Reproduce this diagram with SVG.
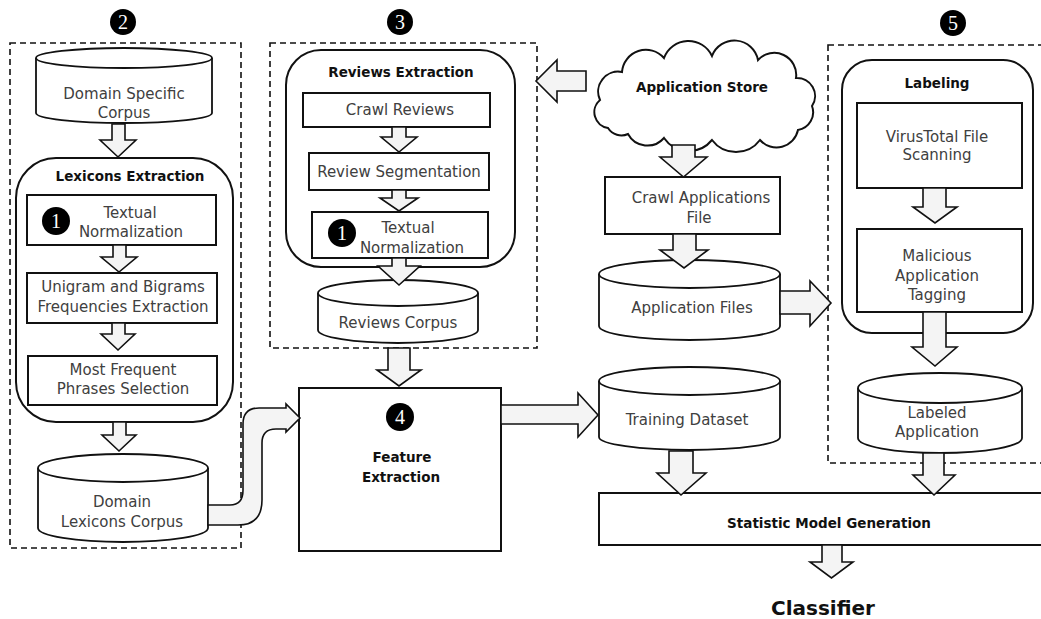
<svg xmlns="http://www.w3.org/2000/svg" width="1041" height="619" viewBox="0 0 1041 619">
  <style>
    .grp { fill: none; stroke: #111; stroke-width: 1.6; stroke-dasharray: 6 4; }
    .box { fill: #fff; stroke: #111; stroke-width: 2; }
    .db { fill: #fff; stroke: #111; stroke-width: 1.8; }
    .arr { fill: #f4f4f4; stroke: #111; stroke-width: 1.6; stroke-linejoin: miter; }
    .t { font-family: "DejaVu Sans", "Liberation Sans", sans-serif; font-size: 15px; fill: #404040; text-anchor: middle; }
    .h { font-family: "DejaVu Sans", "Liberation Sans", sans-serif; font-size: 13.5px; font-weight: bold; fill: #111; text-anchor: middle; }
    .big { font-size: 20px; }
    .badge { fill: #000; }
    .num { font-family: "Liberation Serif", "DejaVu Serif", serif; font-size: 20px; fill: #fff; text-anchor: middle; }
  </style>

  <!-- dashed grouping frames with their step badges -->
  <g id="group-2">
    <rect class="grp" x="10" y="43" width="231" height="505"/>
    <circle class="badge" cx="123" cy="22" r="13"/>
    <text class="num" x="123" y="29">2</text>
  </g>
  <g id="group-3">
    <rect class="grp" x="270" y="43" width="267" height="305"/>
    <circle class="badge" cx="400" cy="22" r="13"/>
    <text class="num" x="400" y="29">3</text>
  </g>
  <g id="group-5">
    <rect class="grp" x="828" y="45" width="240" height="418"/>
    <circle class="badge" cx="953" cy="23" r="13"/>
    <text class="num" x="953" y="30">5</text>
  </g>

  <!-- lexicon branch -->
  <g id="domain-specific-corpus">
    <path class="db" d="M36,58 V113 A88,10 0 0 0 212,113 V58"/>
    <ellipse class="db" cx="124" cy="58" rx="88" ry="10"/>
    <text class="t" x="124" y="99">Domain Specific</text>
    <text class="t" x="124" y="118">Corpus</text>
  </g>
  <g id="lexicons-extraction">
    <rect class="box" x="16" y="158" width="217" height="264" rx="40" ry="40"/>
    <text class="h" x="130" y="181">Lexicons Extraction</text>
  </g>
  <g id="lex-normalization">
    <rect class="box" x="27" y="195" width="189" height="50"/>
    <circle class="badge" cx="56" cy="221" r="14"/>
    <text class="num" x="56" y="228">1</text>
    <text class="t" x="130" y="218">Textual</text>
    <text class="t" x="131" y="237">Normalization</text>
  </g>
  <g id="ngram-frequencies">
    <rect class="box" x="27" y="273" width="190" height="50"/>
    <text class="t" x="123" y="292">Unigram and Bigrams</text>
    <text class="t" x="123" y="312">Frequencies Extraction</text>
  </g>
  <g id="phrase-selection">
    <rect class="box" x="28" y="356" width="189" height="49"/>
    <text class="t" x="123" y="375">Most Frequent</text>
    <text class="t" x="123" y="394">Phrases Selection</text>
  </g>
  <g id="domain-lexicons-corpus">
    <path class="db" d="M38,468 V528 A85,14 0 0 0 208,528 V468"/>
    <ellipse class="db" cx="123" cy="468" rx="85" ry="14"/>
    <text class="t" x="122" y="507">Domain</text>
    <text class="t" x="122" y="527">Lexicons Corpus</text>
  </g>

  <!-- reviews branch -->
  <g id="reviews-extraction">
    <rect class="box" x="286" y="50" width="229" height="217" rx="35" ry="35"/>
    <text class="h" x="401" y="77">Reviews Extraction</text>
  </g>
  <g id="crawl-reviews">
    <rect class="box" x="303" y="93" width="187" height="34"/>
    <text class="t" x="400" y="115">Crawl Reviews</text>
  </g>
  <g id="review-segmentation">
    <rect class="box" x="309" y="153" width="180" height="37"/>
    <text class="t" x="399" y="177">Review Segmentation</text>
  </g>
  <g id="rev-normalization">
    <rect class="box" x="312" y="212" width="176" height="46"/>
    <circle class="badge" cx="342" cy="233" r="14"/>
    <text class="num" x="342" y="240">1</text>
    <text class="t" x="408" y="233">Textual</text>
    <text class="t" x="412" y="253">Normalization</text>
  </g>
  <g id="reviews-corpus">
    <path class="db" d="M318,293 V330 A80,13 0 0 0 478,330 V293"/>
    <ellipse class="db" cx="398" cy="293" rx="80" ry="13"/>
    <text class="t" x="398" y="328">Reviews Corpus</text>
  </g>

  <!-- feature extraction -->
  <g id="feature-extraction">
    <rect class="box" x="299" y="388" width="202" height="163"/>
    <circle class="badge" cx="400" cy="417" r="14"/>
    <text class="num" x="400" y="424">4</text>
    <text class="h" x="402" y="462">Feature</text>
    <text class="h" x="401" y="482">Extraction</text>
  </g>

  <!-- application branch -->
  <g id="application-store">
    <path class="box" stroke-width="1.8" d="M608,128 A16,16 0 0 1 600,100 A20,20 0 0 1 622,72 A24,24 0 0 1 664,58 A26,26 0 0 1 712,56 A24,24 0 0 1 758,60 A22,22 0 0 1 796,78 A18,18 0 0 1 812,106 A18,18 0 0 1 798,130 A22,22 0 0 1 760,140 A30,30 0 0 1 712,140 A30,30 0 0 1 664,138 A22,22 0 0 1 628,134 A16,16 0 0 1 608,128 Z"/>
    <text class="h" x="702" y="92">Application Store</text>
  </g>
  <g id="crawl-applications">
    <rect class="box" x="605" y="177" width="175" height="57"/>
    <text class="t" x="701" y="203">Crawl Applications</text>
    <text class="t" x="699" y="223">File</text>
  </g>
  <g id="application-files">
    <path class="db" d="M599,274 V326 A90.5,14 0 0 0 780,326 V274"/>
    <ellipse class="db" cx="689.5" cy="274" rx="90.5" ry="14"/>
    <text class="t" x="692" y="313">Application Files</text>
  </g>
  <g id="training-dataset">
    <path class="db" d="M599,381 V437 A90.5,13 0 0 0 780,437 V381"/>
    <ellipse class="db" cx="689.5" cy="381" rx="90.5" ry="14"/>
    <text class="t" x="687" y="425">Training Dataset</text>
  </g>

  <!-- labeling branch -->
  <g id="labeling">
    <rect class="box" x="842" y="60" width="191" height="273" rx="30" ry="30"/>
    <text class="h" x="937" y="88">Labeling</text>
  </g>
  <g id="virustotal-scanning">
    <rect class="box" x="857" y="103" width="165" height="85"/>
    <text class="t" x="937" y="142">VirusTotal File</text>
    <text class="t" x="937" y="160">Scanning</text>
  </g>
  <g id="malicious-tagging">
    <rect class="box" x="857" y="229" width="165" height="83"/>
    <text class="t" x="937" y="261">Malicious</text>
    <text class="t" x="937" y="281">Application</text>
    <text class="t" x="937" y="300">Tagging</text>
  </g>
  <g id="labeled-application">
    <path class="db" d="M858,388 V438 A82,15 0 0 0 1022,438 V388"/>
    <ellipse class="db" cx="940" cy="388" rx="82" ry="15"/>
    <text class="t" x="937" y="418">Labeled</text>
    <text class="t" x="937" y="437">Application</text>
  </g>

  <!-- model generation and output -->
  <g id="statistic-model-generation">
    <rect class="box" x="599" y="493" width="450" height="52"/>
    <text class="h" x="829" y="528">Statistic Model Generation</text>
  </g>
  <g id="classifier">
    <text class="h big" x="823" y="615">Classifier</text>
  </g>

  <!-- block arrow connectors -->
  <g id="connectors">
    <polygon class="arr" points="112,124 125,124 125,140 136,140 118,157 100,140 112,140"/>
    <polygon class="arr" points="113,245 126,245 126,257 137,257 119,272 101,257 113,257"/>
    <polygon class="arr" points="112,323 125,323 125,334 135,334 118,350 101,334 112,334"/>
    <polygon class="arr" points="113,422 126,422 126,435 136,435 119,451 102,435 113,435"/>

    <polygon class="arr" points="392,127 406,127 406,137 417,137 399,152 381,137 392,137"/>
    <polygon class="arr" points="392,190 406,190 406,198 418,198 399,211 380,198 392,198"/>
    <polygon class="arr" points="392,258 406,258 406,266 420,266 399,285 378,266 392,266"/>
    <polygon class="arr" points="388,348 410,348 410,370 421,370 399,386 377,370 388,370"/>

    <path class="arr" d="M208,505 H230 Q243,505 243,490 V424 Q243,408 259,408 H286 V404 L300,418 L286,432 V429 H276 Q262,429 262,443 V500 Q262,525 238,525 H208 Z"/>

    <polygon class="arr" points="501,405 578,405 578,393 598,415 578,437 578,424 501,424"/>
    <polygon class="arr" points="586,71 557,71 557,60 536,81 557,102 557,91 586,91"/>

    <polygon class="arr" points="672,145 695,145 695,157 707,157 683.5,177 660,157 672,157"/>
    <polygon class="arr" points="673,234 696,234 696,250 708,250 684,268 660,250 673,250"/>
    <polygon class="arr" points="780,291 810,291 810,281 831,303 810,326 810,314 780,314"/>

    <polygon class="arr" points="923,188 946,188 946,207 957,207 935,223 913,207 923,207"/>
    <polygon class="arr" points="923,312 946,312 946,347 957,347 935,366 912,347 923,347"/>

    <polygon class="arr" points="669,451 693,451 693,473 706,473 681,495 657,473 669,473"/>
    <polygon class="arr" points="923,453 944,453 944,475 955,475 934,495 913,475 923,475"/>
    <polygon class="arr" points="822,545 842,545 842,562 853,562 831.5,578 810,562 822,562"/>
  </g>
</svg>
